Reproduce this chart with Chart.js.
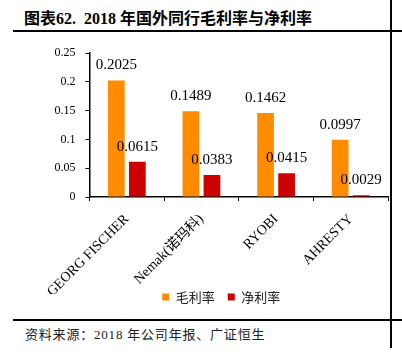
<!DOCTYPE html>
<html>
<head>
<meta charset="utf-8">
<script src="https://cdn.jsdelivr.net/npm/chart.js@4.4.1/dist/chart.umd.min.js"></script>
<style>
  html, body { margin: 0; padding: 0; background: #fff; }
  #wrap { position: relative; width: 402px; height: 355px; overflow: hidden; background: #fff; }
  #title { position: absolute; left: 24px; top: 5px; font: bold 16px "Liberation Serif", "Noto Sans CJK SC", serif; color: #000; white-space: nowrap; }
  #title .cjk { font-family: "Noto Sans CJK SC", sans-serif; font-weight: bold; }
  #src { position: absolute; left: 25px; top: 324px; font: 13px "Liberation Serif", "Noto Sans CJK SC", serif; letter-spacing: 0.8px; color: #222; white-space: nowrap; }
  .hline { position: absolute; height: 2px; background: #000; }
  .vline { position: absolute; width: 2px; background: #000; }
  #chart { position: absolute; left: 32px; top: 36px; }
</style>
</head>
<body>
<div id="wrap">
  <div id="title"><span class="cjk">图表</span>62.&nbsp;&nbsp;2018 <span class="cjk">年国外同行毛利率与净利率</span></div>
  <div class="hline" style="left:13px; top:30px; width:389px;"></div>
  <div class="hline" style="left:13px; top:319px; width:389px;"></div>
  <div class="vline" style="left:390px; top:0px; height:348px;"></div>
  <div id="src">资料来源：2018 年公司年报、广证恒生</div>
  <canvas id="chart" width="359" height="294"></canvas>
</div>
<script>
const categories = ["GEORG FISCHER", "Nemak(诺玛科)", "RYOBI", "AHRESTY"];
const seriesNames = ["毛利率", "净利率"];
const grossMargin = [0.2025, 0.1489, 0.1462, 0.0997];
const netMargin = [0.0615, 0.0383, 0.0415, 0.0029];
const yTicks = [0, 0.05, 0.1, 0.15, 0.2, 0.25];
const colors = ["#FF8C00", "#CC0000"];

const serif = "'Liberation Serif', 'Noto Sans CJK SC', serif";

const valueLabels = {
  id: 'valueLabels',
  afterDatasetsDraw(chart) {
    const ctx = chart.ctx;
    ctx.save();
    ctx.font = "15px " + serif;
    ctx.fillStyle = "#000";
    ctx.textAlign = "center";
    ctx.textBaseline = "middle";
    chart.data.datasets.forEach((ds, i) => {
      const meta = chart.getDatasetMeta(i);
      meta.data.forEach((bar, j) => {
        ctx.fillText(ds.data[j].toFixed(4), bar.x, bar.y - 15);
      });
    });
    ctx.restore();
  }
};

// move the legend up next to the rotated category labels, and a little right
const legendPlace = {
  id: 'legendPlace',
  afterLayout(chart) {
    const l = chart.legend;
    if (!l) return;
    const dy = l.top - 241.5;
    l.top -= dy;
    l.bottom -= dy;
    l.left += 5;
    l.right += 5;
  }
};

new Chart(document.getElementById('chart'), {
  type: 'bar',
  data: {
    labels: categories,
    datasets: [
      { label: seriesNames[0], data: grossMargin, backgroundColor: colors[0], categoryPercentage: 0.564, barPercentage: 0.795 },
      { label: seriesNames[1], data: netMargin, backgroundColor: colors[1], categoryPercentage: 0.564, barPercentage: 0.795 }
    ]
  },
  options: {
    responsive: false,
    animation: false,
    devicePixelRatio: 1,
    layout: { padding: { left: 12.5, right: 3, top: 16, bottom: 0 } },
    plugins: {
      legend: {
        position: 'bottom',
        labels: {
          boxWidth: 7, boxHeight: 7, padding: 13,
          color: '#222',
          font: { family: "'Noto Sans CJK SC', sans-serif", size: 13 }
        }
      },
      tooltip: { enabled: false }
    },
    scales: {
      x: {
        afterFit(axis) { axis.paddingLeft = 0; axis.paddingRight = 0; axis.height = 97; },
        grid: { drawOnChartArea: false, drawTicks: true, tickLength: 4, color: '#000', offset: true },
        border: { color: '#000', width: 1.5 },
        ticks: {
          color: '#000', maxRotation: 45, minRotation: 45, padding: 10,
          font: { family: serif, size: 14 }
        }
      },
      y: {
        min: 0, max: 0.25,
        afterBuildTicks(axis) { axis.ticks = yTicks.map(v => ({ value: v })); },
        grid: { drawOnChartArea: false, drawTicks: true, tickLength: 4, color: '#000' },
        border: { color: '#000', width: 1.5 },
        ticks: {
          color: '#000', padding: 10, autoSkip: false,
          font: { family: serif, size: 12 },
          callback: v => String(+v.toFixed(2))
        }
      }
    }
  },
  plugins: [valueLabels, legendPlace]
});
</script>
</body>
</html>
